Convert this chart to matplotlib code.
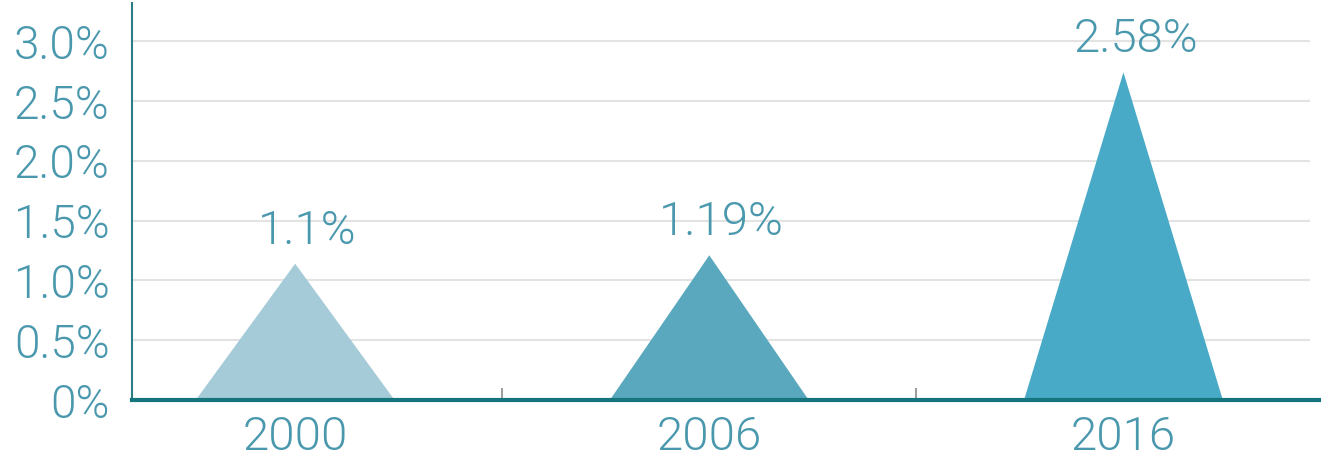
import matplotlib
matplotlib.use("Agg")
import matplotlib.pyplot as plt
from matplotlib.ticker import FixedLocator

# ---- data ----
categories = ["2000", "2006", "2016"]
labels = ["1.1%", "1.19%", "2.58%"]
heights = [1.14, 1.21, 2.74]          # triangle heights as drawn in the reference (%)
colors = ["#a6cbd8", "#5aa8be", "#49aac7"]
y_ticks = [0, 0.5, 1.0, 1.5, 2.0, 2.5, 3.0]
y_ticklabels = ["0%", "0.5%", "1.0%", "1.5%", "2.0%", "2.5%", "3.0%"]

FONT = ["Roboto", "DejaVu Sans"]
W = 300
TXT = "#4a98ad"

fig = plt.figure(figsize=(13.21, 4.66), dpi=100)
ax = fig.add_axes([0.0999, 0.1416, 0.9001, 0.852])

half_w = 0.24
for i, (h, c) in enumerate(zip(heights, colors)):
    ax.fill([i - half_w, i, i + half_w], [0, h, 0], color=c, lw=0, zorder=3)
    ax.annotate(labels[i], xy=(i, h), xytext=(9, 8), textcoords="offset points",
                ha="center", va="bottom", fontsize=34, color=TXT,
                family=FONT, fontweight=W, zorder=4)

ax.set_xlim(-0.394, 2.477)
ax.set_ylim(0, 3.32)

ax.set_yticks(y_ticks)
ax.set_yticklabels(y_ticklabels, family=FONT, fontweight=W, fontsize=33, color=TXT)
ax.set_xticks(range(len(categories)))
ax.set_xticklabels(categories, family=FONT, fontweight=W, fontsize=34, color=TXT)
ax.tick_params(axis="y", length=0, pad=16)
ax.tick_params(axis="x", which="major", length=0, pad=11)
ax.xaxis.set_minor_locator(FixedLocator([0.5, 1.5]))
ax.tick_params(axis="x", which="minor", direction="in", length=9, width=1.2, color="#8a8a8a")

for yv in y_ticks[1:]:
    ax.axhline(yv, xmin=0, xmax=0.99, color="#e3e3e3", lw=1.5, zorder=0)

for s in ["top", "right"]:
    ax.spines[s].set_visible(False)
ax.spines["left"].set_color("#2d7d84")
ax.spines["left"].set_linewidth(1.5)
ax.spines["bottom"].set_color("#14767c")
ax.spines["bottom"].set_linewidth(3)
ax.spines["bottom"].set_zorder(5)

fig.savefig("out.png", dpi=100, facecolor="white")
